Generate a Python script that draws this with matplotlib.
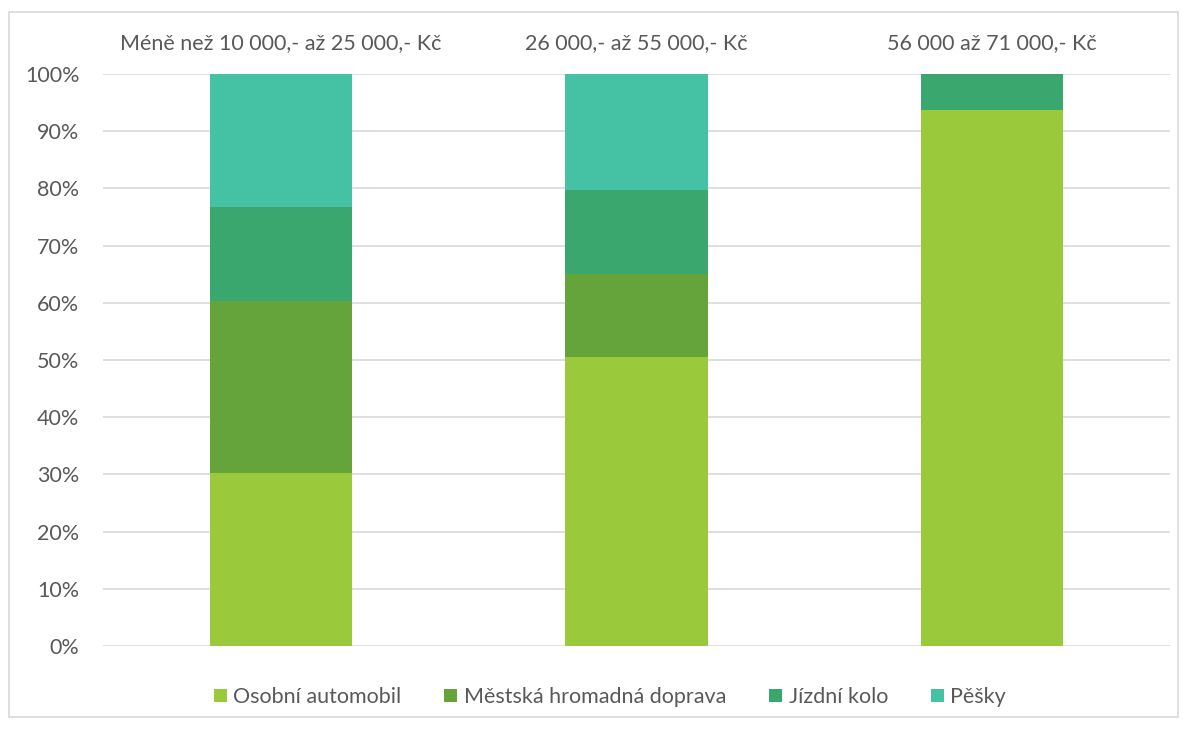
import matplotlib
matplotlib.use("Agg")
import matplotlib.pyplot as plt
from matplotlib.patches import Rectangle
import numpy as np

categories = ["Méně než 10 000,- až 25 000,- Kč", "26 000,- až 55 000,- Kč", "56 000 až 71 000,- Kč"]
series_names = ["Osobní automobil", "Městská hromadná doprava", "Jízdní kolo", "Pěšky"]
osobni = [30.2, 50.5, 93.7]
mhd = [30.2, 14.6, 0.0]
kolo = [16.3, 14.7, 6.3]
pesky = [23.3, 20.2, 0.0]
colors = ["#9ACA3C", "#65A43A", "#3AA76E", "#45C1A3"]
yticks = [0, 10, 20, 30, 40, 50, 60, 70, 80, 90, 100]

plt.rcParams['font.family'] = ['Lato', 'DejaVu Sans']
W, H = 1188, 729
fig = plt.figure(figsize=(W/100, H/100), dpi=100)
fig.patches.append(Rectangle((9/W, 12/H), 1169/W, 705/H, transform=fig.transFigure,
                             fill=False, edgecolor="#D9D9D9", linewidth=1.2))
ax = fig.add_axes([103/W, (H-646)/H, 1067/W, 572/H])

x = np.arange(len(categories)) + 0.5
bottom = np.zeros(len(categories))
for name, vals, c in zip(series_names, [osobni, mhd, kolo, pesky], colors):
    ax.bar(x, vals, width=0.40, bottom=bottom, color=c, label=name, zorder=3)
    bottom += np.array(vals)

ax.set_xlim(0, 3)
ax.set_ylim(0, 100)
ax.set_yticks(yticks)
ax.set_yticklabels([f"{t}%" for t in yticks])
ax.yaxis.grid(True, color="#D9D9D9", linewidth=1.2, zorder=0)
ax.set_xticks(x)
ax.set_xticklabels(categories)
ax.xaxis.tick_top()
ax.tick_params(axis='both', length=0, labelsize=15.5, colors="#595959")
ax.tick_params(axis='x', pad=15)
ax.tick_params(axis='y', pad=17)
for s in ax.spines.values():
    s.set_visible(False)

leg = fig.legend(loc="center", bbox_to_anchor=(610/W, (H-697)/H), ncol=4, frameon=False,
                 fontsize=15.5, handlelength=0.6, handleheight=0.6, handletextpad=0.3,
                 columnspacing=2.0, labelcolor="#595959")

fig.savefig("out.png", dpi=100)
